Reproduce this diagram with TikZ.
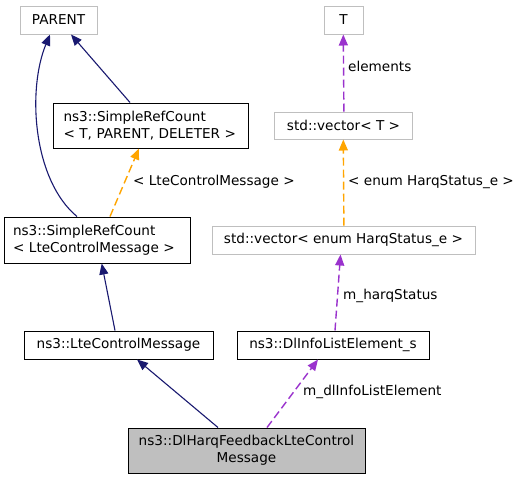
\documentclass[tikz,border=0pt]{standalone}
\usepackage{fontspec}
\setmainfont{DejaVu Sans}
\usetikzlibrary{arrows.meta}
\definecolor{edgenavy}{HTML}{191970}
\definecolor{edgeorange}{HTML}{FFA500}
\definecolor{edgepurple}{HTML}{9A32CD}
\definecolor{boxgray}{HTML}{BFBFBF}
\begin{document}
\begin{tikzpicture}[x=1pt,y=-1pt,
  every node/.style={font=\fontsize{13.6}{17.3}\selectfont, inner sep=0pt},
  cls/.style={draw=black, line width=1pt, fill=white},
  ext/.style={draw=boxgray, line width=1pt, fill=white},
  inh/.style={draw=edgenavy, line width=1.1pt, -{Triangle[length=11pt,width=9pt]}},
  tmpl/.style={draw=edgeorange, line width=1.4pt, dash pattern=on 8pt off 4pt, -{Triangle[length=11pt,width=9pt]}},
  use/.style={draw=edgepurple, line width=1.4pt, dash pattern=on 8pt off 4pt, -{Triangle[length=11pt,width=9pt]}},
  lbl/.style={anchor=west}]
\useasboundingbox[fill=white] (0,0) rectangle (519,480);
% nodes
\node[ext, minimum width=77pt, minimum height=28pt] (parent) at (58.5,20) {PARENT};
\node[cls, minimum width=195pt, minimum height=45pt, align=left, text width=174pt] (srctpd) at (150.5,125.5) {ns3::SimpleRefCount\\< T, PARENT, DELETER >};
\node[cls, minimum width=186pt, minimum height=46pt, align=left, text width=168pt] (srclcm) at (97,240) {ns3::SimpleRefCount\\< LteControlMessage >};
\node[ext, minimum width=39pt, minimum height=28pt] (t) at (343.5,20) {T};
\node[ext, minimum width=138pt, minimum height=27pt] (vect) at (343.5,125.5) {std::vector< T >};
\node[ext, minimum width=263pt, minimum height=28pt] (vece) at (343.5,240) {std::vector< enum HarqStatus\_e >};
\node[cls, minimum width=189pt, minimum height=28pt] (lcm) at (118.5,345) {ns3::LteControlMessage};
\node[cls, minimum width=192pt, minimum height=28pt] (dli) at (333,345) {ns3::DlInfoListElement\_s};
\node[cls, fill=boxgray, minimum width=237pt, minimum height=45pt, align=center] (dh) at (246.5,450.5) {ns3::DlHarqFeedbackLteControl\\Message};
% edges
\draw[inh] ([xshift=-20pt]srclcm.north) .. controls (33,180) and (27,90) .. ([xshift=-8.5pt]parent.south);
\draw[inh] ([xshift=-20.5pt]srctpd.north) -- ([xshift=12.5pt]parent.south);
\draw[tmpl] ([xshift=13pt]srclcm.north) -- ([xshift=-11.5pt]srctpd.south);
\draw[inh] ([xshift=-3.5pt]lcm.north) -- ([xshift=4.7pt]srclcm.south);
\draw[inh] ([xshift=-28.5pt]dh.north) -- ([xshift=18.5pt]lcm.south);
\draw[use] ([xshift=20.5pt]dh.north) -- ([xshift=-15pt]dli.south);
\draw[use] ([xshift=2pt]dli.north) -- ([xshift=-3pt]vece.south);
\draw[tmpl] ([xshift=0.4pt]vece.north) -- ([xshift=-0.2pt]vect.south);
\draw[use] ([xshift=0.4pt]vect.north) -- ([xshift=-0.2pt]t.south);
% labels
\node[lbl] (l1) at (133,182) {< LteControlMessage >};
\node[lbl] (l2) at (348,66) {elements};
\node[lbl] (l3) at (348,182) {< enum HarqStatus\_e >};
\node[lbl] (l4) at (343,296) {m\_harqStatus};
\node[lbl] (l5) at (303,392) {m\_dlInfoListElement};
\end{tikzpicture}
\end{document}
